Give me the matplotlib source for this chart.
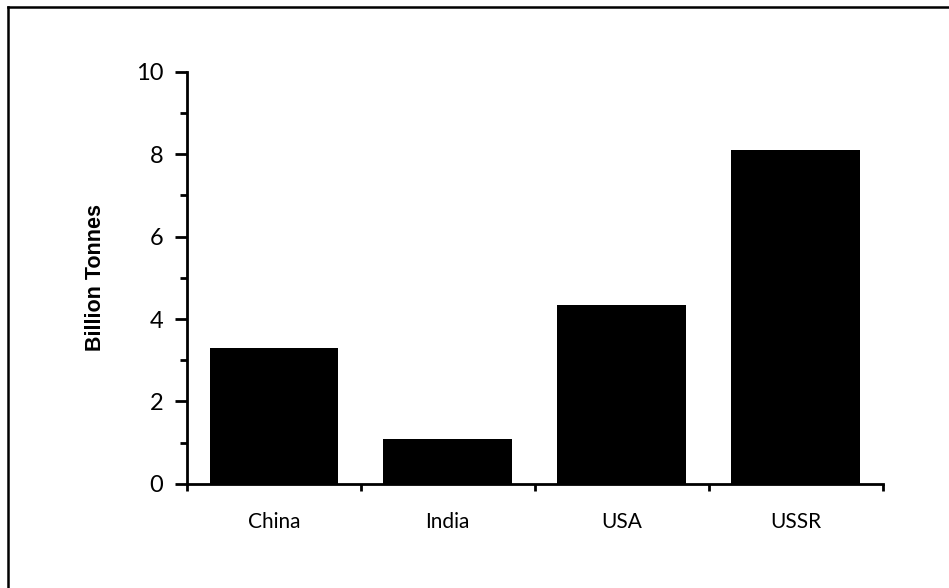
import matplotlib
matplotlib.use("Agg")
import matplotlib.pyplot as plt
from matplotlib.lines import Line2D
from matplotlib.ticker import MultipleLocator, FixedLocator, NullFormatter

countries = ["China", "India", "USA", "USSR"]
values = [3.3, 1.1, 4.35, 8.1]
yticks = [0, 2, 4, 6, 8, 10]

fig = plt.figure(figsize=(9.49, 5.88), dpi=100)
ax = fig.add_axes([0.197, 0.177, 0.733, 0.701])

pos = [i + 0.5 for i in range(len(countries))]
ax.bar(pos, values, width=0.74, color="black")

ax.set_xlim(0, len(countries))
ax.set_ylim(0, 10)
ax.set_yticks(yticks)
ax.set_yticklabels([str(t) for t in yticks], fontsize=17, family="Lato")
ax.yaxis.set_minor_locator(MultipleLocator(1))
ax.xaxis.set_major_locator(FixedLocator(list(range(len(countries) + 1))))
ax.xaxis.set_major_formatter(NullFormatter())
ax.xaxis.set_minor_locator(FixedLocator(pos))
ax.set_xticklabels(countries, minor=True, fontsize=15, family="Lato")
ax.tick_params(axis="x", which="minor", length=0, pad=20)
ax.tick_params(axis="x", which="major", length=5, width=2, direction="out")
ax.tick_params(axis="y", which="major", length=9, width=2, direction="out", pad=8)
ax.tick_params(axis="y", which="minor", length=5, width=2, direction="out")

for s in ["top", "right"]:
    ax.spines[s].set_visible(False)
for s in ["left", "bottom"]:
    ax.spines[s].set_linewidth(2)

ax.set_ylabel("Billion Tonnes", fontsize=15.5, fontweight="bold",
              family="Liberation Sans")
ax.yaxis.set_label_coords(-0.116, 0.5)

# page frame (top and left edges)
fig.add_artist(Line2D([8/949, 8/949], [0, 1 - 7/588], transform=fig.transFigure,
                      color="black", lw=1.8))
fig.add_artist(Line2D([8/949, 1], [1 - 7/588, 1 - 7/588], transform=fig.transFigure,
                      color="black", lw=1.8))

fig.savefig("out.png", dpi=100)
